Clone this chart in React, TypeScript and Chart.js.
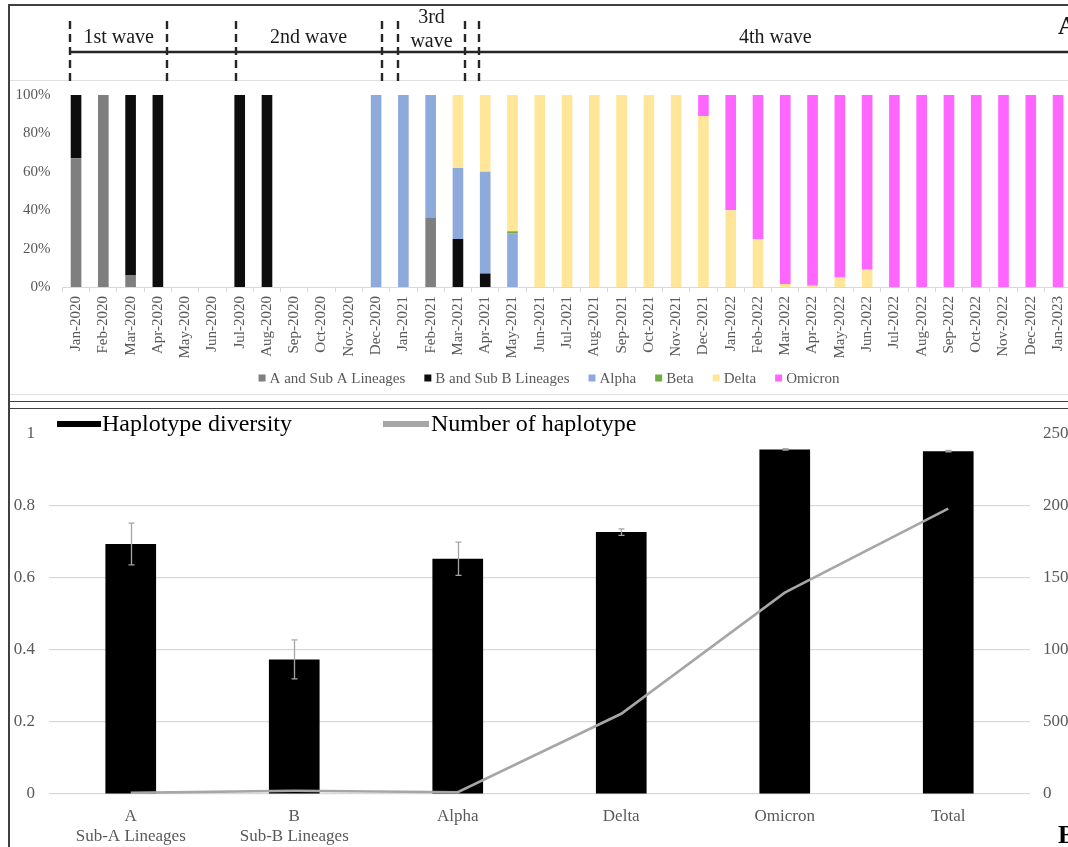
import React, { useEffect, useRef } from "react";
import { Chart, registerables } from "chart.js";
Chart.register(...registerables);

// ---------- Panel A data ----------
const months = [
  "Jan-2020", "Feb-2020", "Mar-2020", "Apr-2020", "May-2020", "Jun-2020", "Jul-2020", "Aug-2020",
  "Sep-2020", "Oct-2020", "Nov-2020", "Dec-2020", "Jan-2021", "Feb-2021", "Mar-2021", "Apr-2021",
  "May-2021", "Jun-2021", "Jul-2021", "Aug-2021", "Sep-2021", "Oct-2021", "Nov-2021", "Dec-2021",
  "Jan-2022", "Feb-2022", "Mar-2022", "Apr-2022", "May-2022", "Jun-2022", "Jul-2022", "Aug-2022",
  "Sep-2022", "Oct-2022", "Nov-2022", "Dec-2022", "Jan-2023",
];
const lineageA = [67, 100, 6, 0, 0, 0, 0, 0, 0, 0, 0, 0, 0, 36, 0, 0, 0, 0, 0, 0, 0, 0, 0, 0, 0, 0, 0, 0, 0, 0, 0, 0, 0, 0, 0, 0, 0];
const lineageB = [33, 0, 94, 100, 0, 0, 100, 100, 0, 0, 0, 0, 0, 0, 25, 7, 0, 0, 0, 0, 0, 0, 0, 0, 0, 0, 0, 0, 0, 0, 0, 0, 0, 0, 0, 0, 0];
const alpha = [0, 0, 0, 0, 0, 0, 0, 0, 0, 0, 0, 100, 100, 64, 37, 53, 28, 0, 0, 0, 0, 0, 0, 0, 0, 0, 0, 0, 0, 0, 0, 0, 0, 0, 0, 0, 0];
const beta = [0, 0, 0, 0, 0, 0, 0, 0, 0, 0, 0, 0, 0, 0, 0, 0, 1, 0, 0, 0, 0, 0, 0, 0, 0, 0, 0, 0, 0, 0, 0, 0, 0, 0, 0, 0, 0];
const delta = [0, 0, 0, 0, 0, 0, 0, 0, 0, 0, 0, 0, 0, 0, 38, 40, 71, 100, 100, 100, 100, 100, 100, 89, 40, 25, 1.5, 0.6, 5, 9, 0, 0, 0, 0, 0, 0, 0];
const omicron = [0, 0, 0, 0, 0, 0, 0, 0, 0, 0, 0, 0, 0, 0, 0, 0, 0, 0, 0, 0, 0, 0, 0, 11, 60, 75, 98.5, 99.4, 95, 91, 100, 100, 100, 100, 100, 100, 100];
const percentTicks = [0, 20, 40, 60, 80, 100];

// wave boundaries expressed as (fractional) month indices
const waveBoundaries = [-0.22, 3.35, 5.85, 11.2, 11.8, 14.26, 14.77];
const waveLabels = [["1st wave"], ["2nd wave"], ["3rd", "wave"], ["4th wave"]];

// ---------- Panel B data ----------
const hapCategories = [["A", "Sub-A Lineages"], ["B", "Sub-B Lineages"], "Alpha", "Delta", "Omicron", "Total"];
const hapDiversity = [0.693, 0.373, 0.652, 0.726, 0.955, 0.95];
const hapDiversityErr = [0.058, 0.054, 0.046, 0.009, 0.002, 0.002];
const hapNumber = [8, 22, 12, 556, 1395, 1978];
const diversityTicks = [0, 0.2, 0.4, 0.6, 0.8, 1];
const numberTicks = [0, 500, 1000, 1500, 2000, 2500];

const SERIF = "'Liberation Serif', 'Times New Roman', serif";
const TICK = "#595959";

const waveAnnotations = {
  id: "waveAnnotations",
  afterDraw(chart: any) {
    const ctx = chart.ctx;
    const xs = chart.scales.x;
    const px = (v: number) => xs.getPixelForValue(v);
    ctx.save();
    ctx.strokeStyle = "#262626";
    ctx.lineWidth = 2.6;
    ctx.beginPath();
    ctx.moveTo(px(waveBoundaries[0]), 47);
    ctx.lineTo(chart.width, 47);
    ctx.stroke();
    ctx.setLineDash([8, 5]);
    ctx.lineWidth = 2.4;
    for (const b of waveBoundaries) {
      const x = Math.round(px(b));
      ctx.beginPath();
      ctx.moveTo(x, 16);
      ctx.lineTo(x, 76);
      ctx.stroke();
    }
    ctx.setLineDash([]);
    ctx.fillStyle = "#1a1a1a";
    ctx.font = `20px ${SERIF}`;
    ctx.textAlign = "center";
    ctx.textBaseline = "middle";
    const spans = [
      [px(waveBoundaries[0]), px(waveBoundaries[1])],
      [px(waveBoundaries[2]), px(waveBoundaries[3])],
      [px(waveBoundaries[4]), px(waveBoundaries[5])],
      [px(waveBoundaries[6]), chart.chartArea.right],
    ];
    waveLabels.forEach((lines, i) => {
      const cx = (spans[i][0] + spans[i][1]) / 2;
      if (lines.length === 1) {
        ctx.fillText(lines[0], cx, 33);
      } else {
        ctx.fillText(lines[0], cx, 13);
        ctx.fillText(lines[1], cx, 37);
      }
    });
    ctx.font = `bold 26px ${SERIF}`;
    ctx.textAlign = "left";
    ctx.fillText("A", 1049, 22);
    ctx.restore();
  },
};

const topLegend = {
  id: "topLegend",
  afterDraw(chart: any) {
    const ctx = chart.ctx;
    ctx.save();
    ctx.font = `15px ${SERIF}`;
    ctx.textBaseline = "middle";
    ctx.textAlign = "left";
    const items = chart.data.datasets.map((d: any) => ({ label: d.label, color: d.backgroundColor }));
    const box = 7, gapBox = 4, gapItem = 19;
    const widths = items.map((it: any) => box + gapBox + ctx.measureText(it.label).width);
    const total = widths.reduce((a: number, b: number) => a + b, 0) + gapItem * (items.length - 1);
    let x = 540 - total / 2;
    const y = 373;
    items.forEach((it: any, i: number) => {
      ctx.fillStyle = it.color;
      ctx.fillRect(x, y - box / 2, box, box);
      ctx.fillStyle = TICK;
      ctx.fillText(it.label, x + box + gapBox, y + 1);
      x += widths[i] + gapItem;
    });
    ctx.restore();
  },
};

const errorBars = {
  id: "errorBars",
  afterDatasetsDraw(chart: any) {
    const ctx = chart.ctx;
    const xs = chart.scales.x;
    const ys = chart.scales.y;
    ctx.save();
    ctx.strokeStyle = "#a6a6a6";
    ctx.lineWidth = 1.3;
    hapDiversity.forEach((v, i) => {
      const x = Math.round(xs.getPixelForValue(i)) + 0.5;
      const yHi = ys.getPixelForValue(v + hapDiversityErr[i]);
      const yLo = ys.getPixelForValue(v - hapDiversityErr[i]);
      ctx.beginPath();
      ctx.moveTo(x, yHi);
      ctx.lineTo(x, yLo);
      ctx.moveTo(x - 3, yHi);
      ctx.lineTo(x + 3, yHi);
      ctx.moveTo(x - 3, yLo);
      ctx.lineTo(x + 3, yLo);
      ctx.stroke();
    });
    ctx.restore();
  },
};

const bottomLegend = {
  id: "bottomLegend",
  afterDraw(chart: any) {
    const ctx = chart.ctx;
    const ds = chart.data.datasets;
    ctx.save();
    ctx.font = `24px ${SERIF}`;
    ctx.textBaseline = "middle";
    ctx.textAlign = "left";
    const y = 15;
    const entries = [
      { x0: 48, x1: 92, tx: 93, color: ds[0].backgroundColor, label: ds[0].label },
      { x0: 374, x1: 420, tx: 422, color: ds[1].borderColor, label: ds[1].label },
    ];
    for (const e of entries) {
      ctx.fillStyle = e.color;
      ctx.fillRect(e.x0, y - 3, e.x1 - e.x0, 6);
      ctx.fillStyle = "#000";
      ctx.fillText(e.label, e.tx, y + 1);
    }
    ctx.font = `bold 26px ${SERIF}`;
    ctx.fillText("B", 1049, 427);
    ctx.restore();
  },
};

export default function App() {
  const topRef = useRef<HTMLCanvasElement>(null);
  const botRef = useRef<HTMLCanvasElement>(null);

  useEffect(() => {
    const tickFont = { family: SERIF, size: 15 };
    const top = new Chart(topRef.current as HTMLCanvasElement, {
      type: "bar",
      data: {
        labels: months,
        datasets: [
          { label: "A and Sub A Lineages", data: lineageA, backgroundColor: "#7f7f7f" },
          { label: "B and Sub B Lineages", data: lineageB, backgroundColor: "#0d0d0d" },
          { label: "Alpha", data: alpha, backgroundColor: "#8eaadb" },
          { label: "Beta", data: beta, backgroundColor: "#70ad47" },
          { label: "Delta", data: delta, backgroundColor: "#ffe699" },
          { label: "Omicron", data: omicron, backgroundColor: "#ff66ff" },
        ],
      },
      options: {
        animation: false,
        responsive: false,
        events: [],
        layout: { padding: { top: 90, right: 17.3, bottom: 0, left: 0 } },
        datasets: { bar: { categoryPercentage: 1, barPercentage: 0.39 } },
        plugins: { legend: { display: false }, tooltip: { enabled: false } },
        scales: {
          x: {
            stacked: true,
            offset: true,
            grid: { display: true, drawOnChartArea: false, drawTicks: true, tickLength: 5, color: "#d9d9d9", offset: true },
            border: { display: true, color: "#d9d9d9" },
            ticks: { autoSkip: false, minRotation: 90, maxRotation: 90, padding: 4, color: TICK, font: tickFont },
            afterFit: (s: any) => { s.height = 107; },
          },
          y: {
            stacked: true,
            min: 0,
            max: 100,
            afterBuildTicks: (s: any) => { s.ticks = percentTicks.map((v) => ({ value: v })); },
            ticks: { padding: 12, color: TICK, font: tickFont, callback: (v: any) => `${v}%` },
            grid: { display: false, drawTicks: false },
            border: { display: false },
            afterFit: (s: any) => { s.width = 53.4; },
          },
        },
      } as any,
      plugins: [waveAnnotations, topLegend],
    });

    const botFont = { family: SERIF, size: 17 };
    const bot = new Chart(botRef.current as HTMLCanvasElement, {
      type: "bar",
      data: {
        labels: hapCategories as any,
        datasets: [
          { type: "bar", label: "Haplotype diversity", data: hapDiversity, backgroundColor: "#000000", yAxisID: "y", order: 2 },
          {
            type: "line", label: "Number of haplotype", data: hapNumber, yAxisID: "y1", order: 1,
            borderColor: "#a6a6a6", backgroundColor: "#a6a6a6", borderWidth: 2.6, pointRadius: 0, tension: 0,
          },
        ] as any,
      },
      options: {
        animation: false,
        responsive: false,
        events: [],
        layout: { padding: { top: 16, right: 0, bottom: 0, left: 0 } },
        datasets: { bar: { categoryPercentage: 1, barPercentage: 0.31 } },
        plugins: { legend: { display: false }, tooltip: { enabled: false } },
        scales: {
          x: {
            grid: { display: false, drawTicks: false },
            border: { display: false },
            ticks: { padding: 12, color: TICK, font: botFont, maxRotation: 0, minRotation: 0, autoSkip: false },
            afterFit: (s: any) => { s.height = 60; },
          },
          y: {
            position: "left",
            min: 0,
            max: 1,
            afterBuildTicks: (s: any) => { s.ticks = diversityTicks.map((v) => ({ value: v })); },
            ticks: { padding: 14, color: TICK, font: botFont, callback: (v: any) => String(v) },
            grid: {
              drawTicks: false,
              color: (c: any) => (c.tick && c.tick.value === 1 ? "rgba(0,0,0,0)" : "#d9d9d9"),
              lineWidth: 1.2,
            },
            border: { display: false },
            afterFit: (s: any) => { s.width = 40; },
          },
          y1: {
            position: "right",
            min: 0,
            max: 2500,
            afterBuildTicks: (s: any) => { s.ticks = numberTicks.map((v) => ({ value: v })); },
            ticks: { padding: 13, color: TICK, font: botFont, callback: (v: any) => String(v) },
            grid: { display: false, drawOnChartArea: false, drawTicks: false },
            border: { display: false },
            afterFit: (s: any) => { s.width = 60; },
          },
        },
      } as any,
      plugins: [errorBars, bottomLegend],
    });

    return () => {
      top.destroy();
      bot.destroy();
    };
  }, []);

  const line = (top: number, h: number, color: string, left = 8) => (
    <div style={{ position: "absolute", left, top, width: 1100, height: h, background: color }} />
  );

  return (
    <div style={{ position: "fixed", left: 0, top: 0, width: 1068, height: 847, overflow: "hidden", background: "#fff" }}>
      {line(4, 1.5, "#404040")}
      {line(80, 1, "#e0e0e0", 9.5)}
      {line(394, 1, "#e0e0e0", 9.5)}
      {line(400.5, 1.5, "#404040")}
      {line(407.5, 1.5, "#404040")}
      <div style={{ position: "absolute", left: 8, top: 4, width: 1.5, height: 900, background: "#404040" }} />
      <canvas ref={topRef} width={1080} height={389} style={{ position: "absolute", left: 9, top: 5, width: 1080, height: 389 }} />
      <canvas ref={botRef} width={1081} height={445} style={{ position: "absolute", left: 9, top: 409, width: 1081, height: 445 }} />
    </div>
  );
}
